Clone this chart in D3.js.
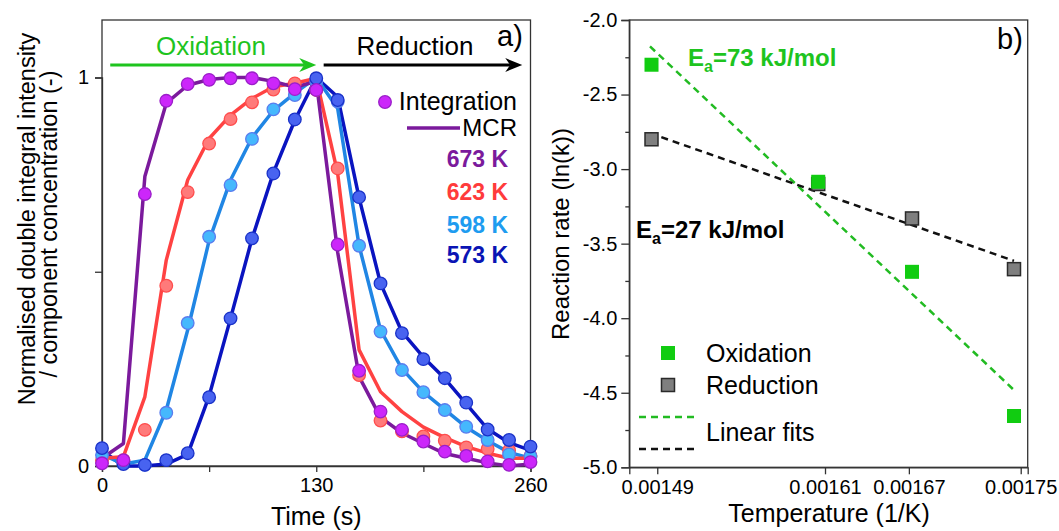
<!DOCTYPE html>
<html>
<head>
<meta charset="utf-8">
<script src="https://cdn.jsdelivr.net/npm/d3@7"></script>
<style>
  body { margin: 0; background: #fff; }
  svg { display: block; font-family: "Liberation Sans", Arial, sans-serif; }
</style>
</head>
<body>
<svg id="chart" width="1059" height="531"></svg>
<script>
// time axis (s) for panel a)
var times = [0, 13, 26, 39, 52, 65, 78, 91, 104, 117, 130, 143, 156, 169, 182, 195, 208, 221, 234, 247, 260];

// double integral (markers)
var int673 = [0.007, 0.015, 0.70, 0.94, 0.983, 0.994, 0.998, 0.998, 0.985, 0.970, 0.968, 0.570, 0.245, 0.140, 0.093, 0.063, 0.037, 0.026, 0.012, 0.003, 0.010];
var int623 = [0.015, 0.015, 0.093, 0.464, 0.705, 0.830, 0.893, 0.936, 0.969, 0.985, 0.968, 0.766, 0.234, 0.117, 0.089, 0.076, 0.065, 0.048, 0.044, 0.040, 0.026];
var int598 = [0.028, 0.008, 0.003, 0.137, 0.368, 0.590, 0.723, 0.842, 0.918, 0.955, 0.990, 0.938, 0.567, 0.346, 0.247, 0.190, 0.144, 0.101, 0.067, 0.030, 0.025];
var int573 = [0.046, 0.005, 0.003, 0.015, 0.033, 0.177, 0.380, 0.586, 0.753, 0.892, 0.998, 0.942, 0.692, 0.470, 0.342, 0.275, 0.226, 0.163, 0.094, 0.067, 0.050];

// MCR component concentration (lines)
var mcr673 = [0.020, 0.058, 0.745, 0.934, 0.980, 0.995, 1.000, 1.000, 0.990, 0.975, 0.990, 0.550, 0.230, 0.125, 0.085, 0.058, 0.032, 0.020, 0.008, 0.000, 0.005];
var mcr623 = [0.020, 0.024, 0.178, 0.530, 0.736, 0.843, 0.903, 0.946, 0.976, 0.985, 0.998, 0.753, 0.299, 0.191, 0.140, 0.100, 0.073, 0.050, 0.033, 0.020, 0.020];
var mcr598 = [0.030, 0.005, 0.015, 0.144, 0.350, 0.580, 0.736, 0.845, 0.915, 0.960, 1.000, 0.920, 0.567, 0.350, 0.250, 0.190, 0.145, 0.100, 0.065, 0.035, 0.020];
var mcr573 = [0.040, 0.000, 0.000, 0.005, 0.030, 0.180, 0.380, 0.585, 0.755, 0.890, 1.000, 0.950, 0.690, 0.470, 0.345, 0.280, 0.225, 0.160, 0.095, 0.060, 0.040];

// panel b) Arrhenius data
var temps = [673, 623, 598, 573];
var oxRate = [-2.30, -3.085, -3.689, -4.656];
var redRate = [-2.80, -3.10, -3.331, -3.671];

var xTicksA = [0, 65, 130, 195, 260];
var xLabelsA = [0, 130, 260];
var yTicksA = [0, 0.5, 1];
var yLabelsA = [0, 1];
var xTicksB = [0.00149, 0.00161, 0.00167, 0.00175];
var yTicksB = [-5, -4.5, -4, -3.5, -3, -2.5, -2];
var yMinorB = [-4.75, -4.25, -3.75, -3.25, -2.75, -2.25];

var series = [
  {name: '573 K', mcr: mcr573, pts: int573, line: '#0a14c0', fill: '#4863f0', edge: '#1a32c8', txt: '#0a14b4'},
  {name: '598 K', mcr: mcr598, pts: int598, line: '#2086e4', fill: '#45b8fd', edge: '#5a7cee', txt: '#1e9cf0'},
  {name: '623 K', mcr: mcr623, pts: int623, line: '#ff4242', fill: '#ff7a7a', edge: '#ff4d4d', txt: '#ff3b3b'},
  {name: '673 K', mcr: mcr673, pts: int673, line: '#7b1a9c', fill: '#cc26fa', edge: '#9a1fc8', txt: '#7b1a9c'}
];

var font = '"Liberation Sans", Arial, sans-serif';
var svg = d3.select('#chart');

function styleAxis(g) {
  g.selectAll('path.domain').attr('stroke', '#333').attr('stroke-width', 1.3);
  g.selectAll('.tick line').attr('stroke', '#333').attr('stroke-width', 1.3);
  g.selectAll('.tick text').attr('fill', '#000').style('font-size', '20px').style('font-family', font);
}

// ---------- panel a) ----------
var xA = d3.scaleLinear().domain([0, 260]).range([102, 530.5]);
var yA = d3.scaleLinear().domain([0, 1]).range([466, 77.5]);
var topA = yA(1.148);

svg.append('rect')
  .attr('x', xA(0)).attr('y', topA)
  .attr('width', xA(260) - xA(0)).attr('height', yA(0) - topA)
  .attr('fill', 'none').attr('stroke', '#333').attr('stroke-width', 1.3);

svg.append('g')
  .attr('transform', 'translate(0,' + yA(0) + ')')
  .call(d3.axisBottom(xA).tickValues(xTicksA).tickSize(6).tickPadding(6)
    .tickFormat(function(d) { return xLabelsA.indexOf(d) >= 0 ? d : ''; }))
  .call(styleAxis);

svg.append('g')
  .attr('transform', 'translate(' + xA(0) + ',0)')
  .call(d3.axisLeft(yA).tickValues(yTicksA).tickSize(7).tickPadding(6)
    .tickFormat(function(d) { return yLabelsA.indexOf(d) >= 0 ? d : ''; }))
  .call(styleAxis);

var lineA = d3.line()
  .x(function(d, i) { return xA(times[i]); })
  .y(function(d) { return yA(d); });

series.forEach(function(s) {
  svg.append('path')
    .attr('d', lineA(s.mcr))
    .attr('fill', 'none')
    .attr('stroke', s.line)
    .attr('stroke-width', 3.5)
    .attr('stroke-linejoin', 'round');
});

// markers: red first, then light blue, dark blue, purple on top
[2, 1, 0, 3].forEach(function(k) {
  var s = series[k];
  svg.append('g').selectAll('circle')
    .data(s.pts)
    .enter().append('circle')
    .attr('cx', function(d, i) { return xA(times[i]); })
    .attr('cy', function(d) { return yA(d); })
    .attr('r', 6.3)
    .attr('fill', s.fill)
    .attr('stroke', s.edge)
    .attr('stroke-width', 1.3);
});

// oxidation / reduction arrows
function arrow(x0, x1, y, col) {
  svg.append('line').attr('x1', x0).attr('x2', x1 - 12).attr('y1', y).attr('y2', y)
    .attr('stroke', col).attr('stroke-width', 3);
  svg.append('path')
    .attr('d', 'M' + x1 + ',' + y + 'L' + (x1 - 17) + ',' + (y - 7) + 'L' + (x1 - 12) + ',' + y + 'L' + (x1 - 17) + ',' + (y + 7) + 'Z')
    .attr('fill', col);
}
arrow(xA(5), xA(130), 65, '#1ec41e');
arrow(xA(134.5), xA(255), 65, '#000');

svg.append('text').attr('x', 211).attr('y', 55).attr('text-anchor', 'middle')
  .style('font-size', '26px').attr('fill', '#1ec41e').text('Oxidation');
svg.append('text').attr('x', 415).attr('y', 55).attr('text-anchor', 'middle')
  .style('font-size', '26px').attr('fill', '#000').text('Reduction');
svg.append('text').attr('x', 497).attr('y', 46)
  .style('font-size', '29px').attr('fill', '#000').text('a)');

// legend a)
svg.append('circle').attr('cx', 385).attr('cy', 102).attr('r', 6.3)
  .attr('fill', '#cc26fa').attr('stroke', '#9a1fc8').attr('stroke-width', 1.3);
svg.append('text').attr('x', 517).attr('y', 110).attr('text-anchor', 'end')
  .style('font-size', '25px').text('Integration');
svg.append('line').attr('x1', 407).attr('x2', 460).attr('y1', 128).attr('y2', 128)
  .attr('stroke', '#7b1a9c').attr('stroke-width', 3.5);
svg.append('text').attr('x', 517).attr('y', 136).attr('text-anchor', 'end')
  .style('font-size', '24px').text('MCR');

var tempLabelY = [167, 200, 233, 263];
[3, 2, 1, 0].forEach(function(k, j) {
  svg.append('text').attr('x', 508).attr('y', tempLabelY[j]).attr('text-anchor', 'end')
    .style('font-size', '23px').style('font-weight', 'bold')
    .attr('fill', series[k].txt)
    .text(series[k].name);
});

// axis titles a)
svg.append('text').attr('x', xA(130)).attr('y', 525).attr('text-anchor', 'middle')
  .style('font-size', '25px').text('Time (s)');
svg.append('text')
  .attr('transform', 'translate(35,219) rotate(-90)')
  .attr('text-anchor', 'middle').style('font-size', '23.5px')
  .text('Normalised double integral intensity');
svg.append('text')
  .attr('transform', 'translate(57,224) rotate(-90)')
  .attr('text-anchor', 'middle').style('font-size', '23.5px')
  .text('/ component concentration (-)');

// ---------- panel b) ----------
var xB = d3.scaleLinear().domain([0.00147, 0.001755]).range([629.3, 1027.7]);
var yB = d3.scaleLinear().domain([-5, -2]).range([467.3, 20]);

svg.append('rect')
  .attr('x', xB.range()[0]).attr('y', yB(-2))
  .attr('width', xB.range()[1] - xB.range()[0]).attr('height', yB(-5) - yB(-2))
  .attr('fill', 'none').attr('stroke', '#333').attr('stroke-width', 1.3);

svg.append('g')
  .attr('transform', 'translate(0,' + yB(-5) + ')')
  .call(d3.axisBottom(xB).tickValues(xTicksB).tickSize(7).tickPadding(6)
    .tickFormat(function(d) { return d.toFixed(5); }))
  .call(styleAxis);

svg.append('g')
  .attr('transform', 'translate(' + xB.range()[0] + ',0)')
  .call(d3.axisLeft(yB).tickValues(yTicksB).tickSize(8).tickPadding(4)
    .tickFormat(function(d) { return d.toFixed(1); }))
  .call(styleAxis);

svg.append('g')
  .attr('transform', 'translate(' + xB.range()[0] + ',0)')
  .call(d3.axisLeft(yB).tickValues(yMinorB).tickSize(4).tickFormat(''))
  .call(styleAxis)
  .select('path.domain').remove();

var invT = temps.map(function(t) { return 1 / t; });

// least-squares fit of ln(k) vs 1/T
function fit(xs, ys) {
  var mx = d3.mean(xs), my = d3.mean(ys);
  var sxy = d3.sum(xs, function(x, i) { return (x - mx) * (ys[i] - my); });
  var sxx = d3.sum(xs, function(x) { return (x - mx) * (x - mx); });
  var b = sxy / sxx;
  return function(x) { return my + b * (x - mx); };
}
var oxFit = fit(invT, oxRate);
var redFit = fit(invT, redRate);
var xEnds = d3.extent(invT);

function fitLine(f, col) {
  svg.append('line')
    .attr('x1', xB(xEnds[0]) - 1.5).attr('y1', yB(f(xEnds[0])))
    .attr('x2', xB(xEnds[1])).attr('y2', yB(f(xEnds[1])))
    .attr('stroke', col).attr('stroke-width', 2.5).attr('stroke-dasharray', '7,5');
}
fitLine(oxFit, '#22bb22');
fitLine(redFit, '#111');

svg.append('g').selectAll('rect')
  .data(redRate).enter().append('rect')
  .attr('x', function(d, i) { return xB(invT[i]) - 6.5; })
  .attr('y', function(d) { return yB(d) - 6.5; })
  .attr('width', 13).attr('height', 13)
  .attr('fill', '#7f7f7f').attr('stroke', '#2a2a2a').attr('stroke-width', 1.5);

svg.append('g').selectAll('rect')
  .data(oxRate).enter().append('rect')
  .attr('x', function(d, i) { return xB(invT[i]) - 7; })
  .attr('y', function(d) { return yB(d) - 7; })
  .attr('width', 14).attr('height', 14)
  .attr('fill', '#11cc11');

// activation energy labels
var ea1 = svg.append('text').attr('x', 688).attr('y', 66).attr('fill', '#1ec41e')
  .style('font-size', '24px').style('font-weight', 'bold');
ea1.append('tspan').text('E');
ea1.append('tspan').attr('dy', 6).style('font-size', '16px').text('a');
ea1.append('tspan').attr('dy', -6).text('=73 kJ/mol');

var ea2 = svg.append('text').attr('x', 636).attr('y', 238).attr('fill', '#000')
  .style('font-size', '24px').style('font-weight', 'bold');
ea2.append('tspan').text('E');
ea2.append('tspan').attr('dy', 6).style('font-size', '16px').text('a');
ea2.append('tspan').attr('dy', -6).text('=27 kJ/mol');

svg.append('text').attr('x', 997).attr('y', 49)
  .style('font-size', '29px').text('b)');

// legend b)
svg.append('rect').attr('x', 661).attr('y', 346).attr('width', 14).attr('height', 14).attr('fill', '#11cc11');
svg.append('text').attr('x', 706).attr('y', 362).style('font-size', '25px').text('Oxidation');
svg.append('rect').attr('x', 661.5).attr('y', 378.5).attr('width', 13).attr('height', 13)
  .attr('fill', '#7f7f7f').attr('stroke', '#2a2a2a').attr('stroke-width', 1.5);
svg.append('text').attr('x', 706).attr('y', 394).style('font-size', '25px').text('Reduction');
svg.append('line').attr('x1', 639).attr('x2', 696).attr('y1', 417).attr('y2', 417)
  .attr('stroke', '#22bb22').attr('stroke-width', 2.5).attr('stroke-dasharray', '7,5');
svg.append('line').attr('x1', 639).attr('x2', 696).attr('y1', 449).attr('y2', 449)
  .attr('stroke', '#111').attr('stroke-width', 2.5).attr('stroke-dasharray', '7,5');
svg.append('text').attr('x', 706).attr('y', 441).style('font-size', '25px').text('Linear fits');

// axis titles b)
svg.append('text').attr('x', 829).attr('y', 522).attr('text-anchor', 'middle')
  .style('font-size', '25px').text('Temperature (1/K)');
svg.append('text')
  .attr('transform', 'translate(569,234) rotate(-90)')
  .attr('text-anchor', 'middle').style('font-size', '24px')
  .text('Reaction rate (ln(k))');
</script>
</body>
</html>
